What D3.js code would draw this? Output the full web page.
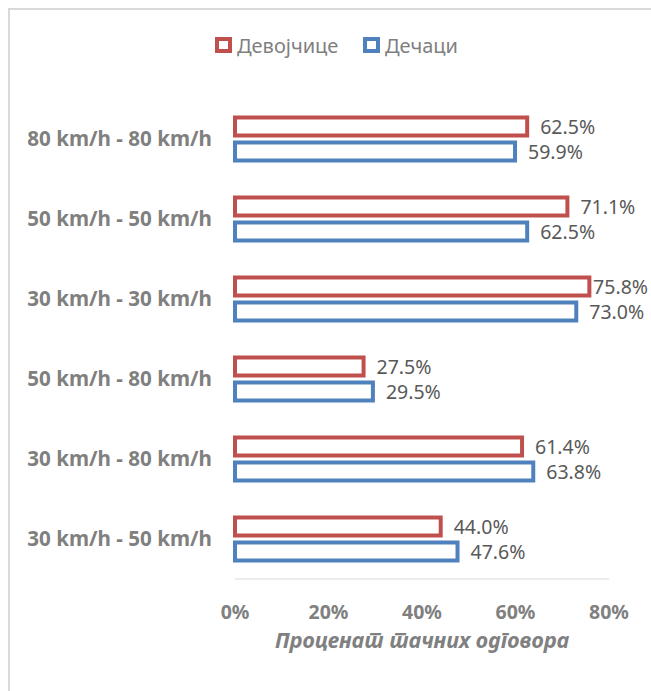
<!DOCTYPE html>
<html>
<head>
<meta charset="utf-8">
<script src="https://cdn.jsdelivr.net/npm/d3@7"></script>
<style>
  body { margin: 0; background: #fff; }
  svg { display: block; font-family: "Noto Sans", "Open Sans", sans-serif; }
</style>
</head>
<body>
<svg id="chart" width="651" height="691" lang="sr"></svg>
<script>

// Data
var categories = ["80 km/h - 80 km/h", "50 km/h - 50 km/h", "30 km/h - 30 km/h",
                  "50 km/h - 80 km/h", "30 km/h - 80 km/h", "30 km/h - 50 km/h"];
var seriesNames = ["Девојчице", "Дечаци"];
var girls = [0.625, 0.711, 0.758, 0.275, 0.614, 0.440];
var boys = [0.599, 0.625, 0.730, 0.295, 0.638, 0.476];
var xTicks = [0, 0.2, 0.4, 0.6, 0.8];
var axisTitle = "Проценат тачних одговора";

var colors = {"Девојчице": "#c0504d", "Дечаци": "#4f81bd"};

var vars = {
  width: 651,
  height: 691,
  margin: {top: 99, right: 42, bottom: 112, left: 235}
};

var rows = [];
categories.forEach(function(c, i) {
  rows.push({cat: c, series: seriesNames[0], value: girls[i]});
  rows.push({cat: c, series: seriesNames[1], value: boys[i]});
});

var svg = d3.select("#chart");

// outer chart border (only top / left visible)
svg.append("rect")
    .attr("x", 9)
    .attr("y", 9)
    .attr("width", 700)
    .attr("height", 740)
    .attr("fill", "none")
    .attr("stroke", "#d9d9d9")
    .attr("stroke-width", 2);

var xScale = d3.scaleLinear()
    .domain([0, 0.8])
    .range([vars.margin.left, vars.width - vars.margin.right]);

var yScale = d3.scaleBand()
    .domain(categories)
    .range([vars.margin.top, vars.height - vars.margin.bottom]);

var subScale = d3.scaleBand()
    .domain(seriesNames)
    .range([0, yScale.bandwidth()])
    .paddingInner(0.28)
    .paddingOuter(0.74);

// axis line
svg.append("line")
    .attr("x1", xScale(0))
    .attr("x2", xScale(0.8))
    .attr("y1", yScale.range()[1])
    .attr("y2", yScale.range()[1])
    .attr("stroke", "#d9d9d9")
    .attr("stroke-width", 1);

// bars
svg.selectAll(".bar").data(rows)
  .enter()
    .append("rect")
    .attr("class", "bar")
    .attr("x", xScale(0))
    .attr("y", function(d) { return yScale(d.cat) + subScale(d.series); })
    .attr("width", function(d) { return xScale(d.value) - xScale(0); })
    .attr("height", subScale.bandwidth())
    .attr("fill", "#fff")
    .attr("stroke", function(d) { return colors[d.series]; })
    .attr("stroke-width", 4);

// value labels
var fmt = d3.format(".1%");
svg.selectAll(".val").data(rows)
  .enter()
    .append("text")
    .attr("class", "val")
    .attr("y", function(d) { return yScale(d.cat) + subScale(d.series) + subScale.bandwidth() / 2; })
    .attr("dominant-baseline", "central")
    .attr("font-size", 19.5)
    .attr("fill", "#595959")
    .text(function(d) { return fmt(d.value); })
    .attr("x", function(d) {
      var w = this.getComputedTextLength();
      return Math.min(xScale(d.value) + 13, vars.width - 3 - w);
    });

// category labels
svg.selectAll(".cat").data(categories)
  .enter()
    .append("text")
    .attr("class", "cat")
    .attr("x", 212)
    .attr("y", function(d) { return yScale(d) + yScale.bandwidth() / 2 - 1; })
    .attr("text-anchor", "end")
    .attr("dominant-baseline", "central")
    .attr("font-size", 20.6)
    .attr("font-weight", "bold")
    .attr("fill", "#808080")
    .text(function(d) { return d; });

// x tick labels
svg.selectAll(".tick").data(xTicks)
  .enter()
    .append("text")
    .attr("class", "tick")
    .attr("x", function(d) { return xScale(d); })
    .attr("y", 619)
    .attr("text-anchor", "middle")
    .attr("font-size", 19.5)
    .attr("font-weight", "bold")
    .attr("fill", "#808080")
    .text(function(d) { return d3.format(".0%")(d); });

svg.append("text")
    .attr("x", (xScale(0) + xScale(0.8)) / 2)
    .attr("y", 648)
    .attr("text-anchor", "middle")
    .attr("font-size", 21.5)
    .attr("font-weight", "bold")
    .attr("font-style", "italic")
    .attr("fill", "#808080")
    .text(axisTitle);

// legend
var legendX = [217, 365];
var legend = svg.selectAll(".legend").data(seriesNames)
  .enter()
    .append("g")
    .attr("class", "legend")
    .attr("transform", function(d, i) { return "translate(" + legendX[i] + ",45)"; });

legend.append("rect")
    .attr("x", 0)
    .attr("y", -6)
    .attr("width", 13)
    .attr("height", 12)
    .attr("fill", "#fff")
    .attr("stroke", function(d) { return colors[d]; })
    .attr("stroke-width", 4);

legend.append("text")
    .attr("x", 20)
    .attr("y", 0)
    .attr("dominant-baseline", "central")
    .attr("font-size", 20)
    .attr("fill", "#7f7f7f")
    .text(function(d) { return d; });

</script>
</body>
</html>
